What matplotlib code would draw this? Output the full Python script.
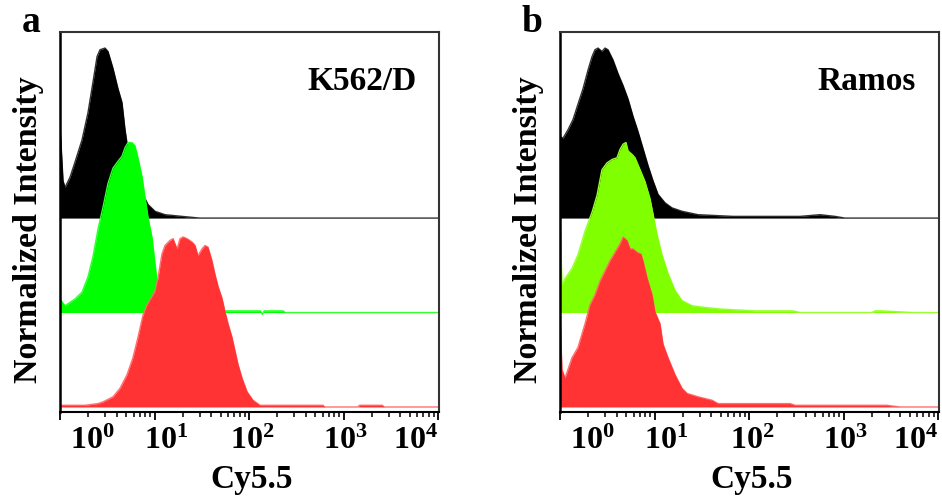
import numpy as np
import matplotlib
matplotlib.use('Agg')
import matplotlib.pyplot as plt
from matplotlib.ticker import LogLocator, NullFormatter
from matplotlib.transforms import ScaledTranslation

plt.rcParams['font.family'] = ['Liberation Serif', 'DejaVu Serif']
plt.rcParams['font.weight'] = 'bold'
plt.rcParams['mathtext.fontset'] = 'custom'
plt.rcParams['mathtext.rm'] = 'Liberation Serif:bold'
plt.rcParams['mathtext.bf'] = 'Liberation Serif:bold'
plt.rcParams['mathtext.it'] = 'Liberation Serif:bold:italic'

# ---- data: log10(Cy5.5) and normalized counts (peak = 1) ----
# panel a, K562/D
a_black_logx = [0.0, 0.032, 0.053, 0.106, 0.159, 0.233, 0.296, 0.349, 0.392, 0.423, 0.476,
                0.508, 0.561, 0.614, 0.656, 0.688, 0.720, 0.772, 0.825, 0.878, 0.931, 1.005,
                1.111, 1.291, 1.481, 4.01]
a_black_y = [0.55, 0.22, 0.18, 0.24, 0.33, 0.46, 0.62, 0.80, 0.95, 0.99, 1.00,
             0.98, 0.88, 0.76, 0.68, 0.52, 0.40, 0.28, 0.21, 0.14, 0.08, 0.04,
             0.02, 0.01, 0.0, 0.0]

a_green_logx = [0.0, 0.053, 0.159, 0.233, 0.296, 0.349, 0.402, 0.455, 0.508, 0.561, 0.614,
                0.656, 0.688, 0.720, 0.762, 0.794, 0.825, 0.868, 0.899, 0.931, 0.974, 1.005,
                1.026, 1.058, 1.111, 1.217, 1.376, 2.12, 2.14, 2.16, 2.18, 2.36, 2.38, 4.01]
a_green_y = [0.08, 0.04, 0.08, 0.12, 0.21, 0.33, 0.49, 0.62, 0.76, 0.85, 0.89,
             0.92, 0.97, 1.00, 1.00, 0.98, 0.91, 0.80, 0.68, 0.56, 0.44, 0.29,
             0.19, 0.11, 0.05, 0.02, 0.01, 0.01, -0.01, 0.01, 0.01, 0.01, 0.0, 0.0]

a_red_logx = [0.0, 0.265, 0.402, 0.455, 0.561, 0.635, 0.709, 0.772, 0.825, 0.878, 0.921,
              0.952, 1.005, 1.037, 1.079, 1.111, 1.164, 1.196, 1.238, 1.270, 1.302, 1.344,
              1.397, 1.429, 1.460, 1.503, 1.534, 1.566, 1.608, 1.640, 1.672, 1.714, 1.746,
              1.778, 1.820, 1.852, 1.884, 1.926, 1.979, 2.042, 2.116, 2.360, 2.783, 2.80,
              3.15, 3.17, 3.41, 3.43, 4.01]
a_red_y = [0.01, 0.01, 0.02, 0.03, 0.06, 0.11, 0.19, 0.29, 0.41, 0.54, 0.60,
           0.63, 0.68, 0.76, 0.90, 0.95, 0.98, 0.99, 0.93, 0.99, 1.00, 0.99,
           0.97, 0.95, 0.89, 0.93, 0.95, 0.94, 0.86, 0.78, 0.71, 0.64, 0.56,
           0.49, 0.41, 0.33, 0.25, 0.17, 0.09, 0.04, 0.01, 0.01, 0.01, 0.0,
           0.0, 0.01, 0.01, 0.0, 0.0]

# panel b, Ramos
b_black_logx = [0.0, 0.032, 0.085, 0.138, 0.190, 0.243, 0.296, 0.339, 0.370, 0.402, 0.444,
                0.476, 0.508, 0.561, 0.614, 0.667, 0.720, 0.772, 0.825, 0.878, 0.931, 0.984,
                1.037, 1.111, 1.185, 1.291, 1.460, 1.831, 2.540, 2.751, 2.910, 3.016, 4.01]
b_black_y = [0.48, 0.47, 0.52, 0.58, 0.67, 0.76, 0.87, 0.95, 0.99, 1.00, 0.98,
             1.00, 0.99, 0.93, 0.85, 0.78, 0.70, 0.60, 0.51, 0.41, 0.31, 0.22,
             0.14, 0.09, 0.06, 0.04, 0.02, 0.01, 0.01, 0.02, 0.01, 0.0, 0.0]

b_green_logx = [0.0, 0.021, 0.053, 0.127, 0.190, 0.265, 0.339, 0.392, 0.444, 0.497, 0.550,
                0.603, 0.635, 0.667, 0.698, 0.720, 0.762, 0.794, 0.847, 0.899, 0.952, 0.984,
                1.026, 1.079, 1.143, 1.217, 1.291, 1.397, 1.534, 1.714, 2.063, 2.466, 2.540,
                3.30, 3.333, 3.40, 3.735, 4.01]
b_green_y = [0.61, 0.16, 0.20, 0.26, 0.34, 0.48, 0.59, 0.69, 0.84, 0.88, 0.90,
             0.91, 0.96, 0.99, 1.00, 0.95, 0.93, 0.91, 0.84, 0.77, 0.67, 0.58,
             0.46, 0.34, 0.23, 0.13, 0.07, 0.04, 0.03, 0.02, 0.01, 0.01, 0.0,
             0.0, 0.01, 0.01, 0.0, 0.0]

b_red_logx = [0.0, 0.021, 0.053, 0.127, 0.190, 0.265, 0.317, 0.370, 0.423, 0.476, 0.529,
              0.582, 0.635, 0.667, 0.709, 0.741, 0.772, 0.815, 0.857, 0.878, 0.921, 0.974,
              1.005, 1.058, 1.090, 1.143, 1.217, 1.291, 1.344, 1.460, 1.608, 1.672, 2.434,
              2.487, 3.460, 3.598, 4.01]
b_red_y = [0.56, 0.22, 0.17, 0.29, 0.35, 0.49, 0.60, 0.66, 0.74, 0.80, 0.86,
           0.91, 0.96, 1.00, 0.98, 0.93, 0.93, 0.91, 0.90, 0.86, 0.76, 0.66,
           0.56, 0.49, 0.37, 0.29, 0.19, 0.11, 0.08, 0.06, 0.04, 0.02, 0.02,
           0.01, 0.01, 0.0, 0.0]

panel_letters = ['a', 'b']
cell_lines = ['K562/D', 'Ramos']
tick_values = [1, 10, 100, 1000, 10000]
tick_labels = [r'$10^{0}$', r'$10^{1}$', r'$10^{2}$', r'$10^{3}$', r'$10^{4}$']
tick_label_shift = [32, 12, 3, 2, -23]   # pixels, as in the reference layout

panels = [
    [(a_black_logx, a_black_y, 2, '#000000', '#333333'),
     (a_green_logx, a_green_y, 1, '#00ff00', '#33ff33'),
     (a_red_logx, a_red_y, 0, '#ff3333', '#ff7070')],
    [(b_black_logx, b_black_y, 2, '#000000', '#333333'),
     (b_green_logx, b_green_y, 1, '#80ff00', '#99ff33'),
     (b_red_logx, b_red_y, 0, '#ff3333', '#ff7070')],
]
peak_scale = 1.80

W, H = 942, 497
fig = plt.figure(figsize=(W / 100, H / 100), dpi=100)
lefts = [60, 560]
ax_w, top_px, bot_px = 379, 32, 412

for i, traces in enumerate(panels):
    ax = fig.add_axes([lefts[i] / W, (H - bot_px) / H, ax_w / W, (bot_px - top_px) / H])
    for k, (logx, y, base, fc, lc) in enumerate(traces):
        x = 10 ** np.array(logx)
        top = base + peak_scale * np.array(y)
        # outline below its own fill, so it only shows along the thin tails
        ax.plot(x, top, color=lc, lw=1.0, zorder=2 * k + 1)
        ax.fill_between(x, base, top, color=fc, lw=0, zorder=2 * k + 2)
    ax.set_xscale('log')
    ax.set_xlim(1, 10 ** 4.01)
    ax.set_ylim(-0.053, 3.97)
    ax.set_yticks([])

    ax.set_xticks(tick_values)
    ax.set_xticklabels(tick_labels)
    ax.xaxis.set_minor_locator(LogLocator(base=10, subs=np.arange(2, 10), numticks=20))
    ax.xaxis.set_minor_formatter(NullFormatter())
    ax.tick_params(axis='x', which='major', direction='out', length=6, width=1.3,
                   labelsize=23, pad=5, color='black')
    ax.tick_params(axis='x', which='minor', direction='out', length=3.5, width=1.1,
                   color='black')
    for lab, dx in zip(ax.get_xticklabels(), tick_label_shift):
        lab.set_transform(lab.get_transform() + ScaledTranslation(dx / 100, 0, fig.dpi_scale_trans))

    for side in ['top', 'right']:
        ax.spines[side].set_color('#333333')
        ax.spines[side].set_linewidth(1.5)
    ax.spines['left'].set_color('black')
    ax.spines['left'].set_linewidth(1.8)
    ax.spines['bottom'].set_color('black')
    ax.spines['bottom'].set_linewidth(1.5)
    for sp in ax.spines.values():
        sp.set_zorder(10)

    ax.text(-0.084, 0.479, 'Normalized Intensity', transform=ax.transAxes, rotation=90,
            ha='center', va='center', fontsize=24.5, fontweight='bold')
    ax.text(0.505, -0.2, 'Cy5.5', transform=ax.transAxes, ha='center', va='baseline',
            fontsize=24, fontweight='bold')
    ax.text(0.94, 0.847, cell_lines[i], transform=ax.transAxes, ha='right', va='baseline',
            fontsize=24, fontweight='bold')
    ax.text(-0.075, 1.0, panel_letters[i], transform=ax.transAxes, ha='center',
            va='baseline', fontsize=27, fontweight='bold')

fig.savefig('out.png', dpi=100)
